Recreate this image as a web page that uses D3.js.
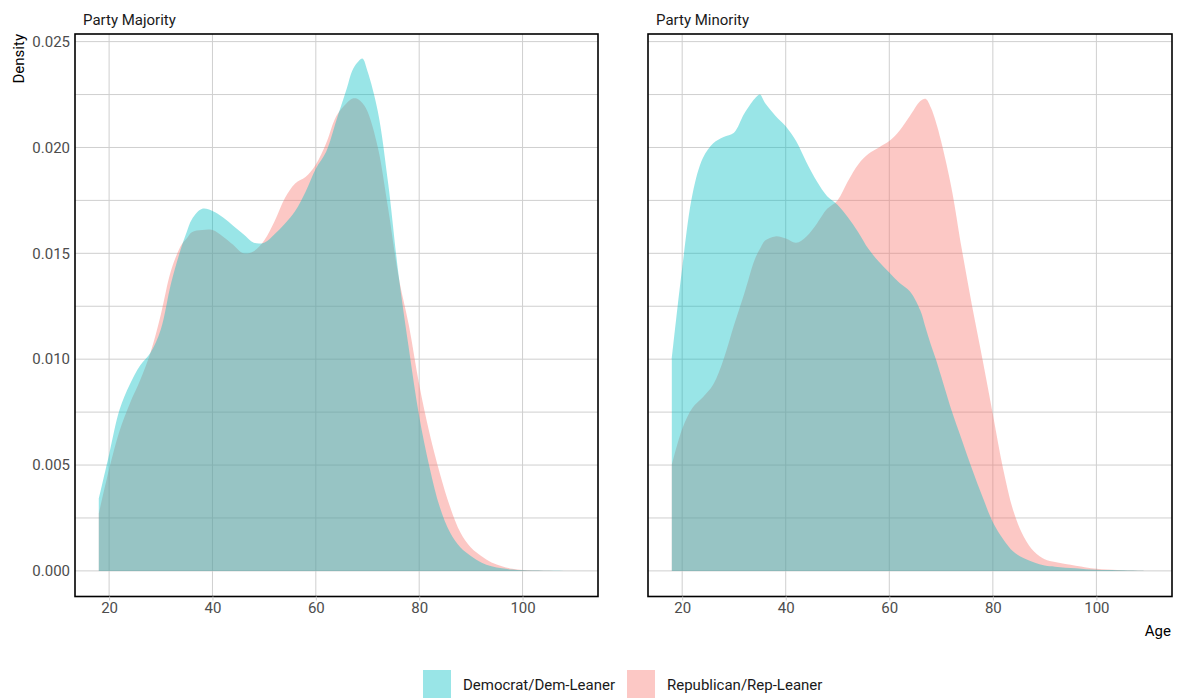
<!DOCTYPE html>
<html>
<head>
<meta charset="utf-8">
<script src="https://cdn.jsdelivr.net/npm/d3@7"></script>
<style>
  body { margin: 0; background: #fff; }
  svg { display: block; }
  text { font-family: Roboto, "Noto Sans", sans-serif; }
</style>
</head>
<body>
<svg id="chart" width="1178" height="700"></svg>
<script>
// Age grid shared by every density curve (denser around the peaks)
const ages = [18, 20, 22, 24, 26, 28, 30, 32, 34, 35, 36, 38, 40, 42, 44, 46, 48, 50, 52, 54,
              56, 58, 60, 62, 64, 66, 67, 68, 69, 70, 72, 74, 76, 78, 80, 82, 84, 86, 88, 90,
              92, 94, 96, 98, 100, 102, 104, 106, 108, 110];

// Estimated age densities, party majority panel
const majorityDem = [0.0034, 0.0055, 0.0076, 0.0088, 0.0097, 0.0103, 0.0114, 0.0136, 0.0153, 0.0160,
                     0.0166, 0.0171, 0.0170, 0.0167, 0.0163, 0.0159, 0.0155, 0.0155, 0.0159, 0.0164,
                     0.0170, 0.0179, 0.0190, 0.0198, 0.0213, 0.0228, 0.0236, 0.0240, 0.0242, 0.0236,
                     0.0217, 0.0183, 0.0140, 0.0105, 0.0073, 0.0049, 0.0030, 0.0018, 0.0011, 0.0007,
                     0.0004, 0.00022, 0.00012, 0.00006, 0.00003, 0.00002, 0.00001, 0.00001, 0, 0];
const majorityRep = [0.0027, 0.0048, 0.0066, 0.0079, 0.0090, 0.0103, 0.0121, 0.0142, 0.0154, 0.0157,
                     0.0160, 0.0161, 0.0161, 0.0158, 0.0154, 0.0150, 0.0151, 0.0156, 0.0165, 0.0176,
                     0.0183, 0.0186, 0.0192, 0.0202, 0.0215, 0.0221, 0.0223, 0.0223, 0.0221, 0.0217,
                     0.0200, 0.0171, 0.0139, 0.0116, 0.0088, 0.0065, 0.0046, 0.0030, 0.0018, 0.0011,
                     0.0007, 0.0004, 0.00022, 0.0001, 0.00004, 0.00002, 0.00001, 0, 0, 0];

// Estimated age densities, party minority panel
const minorityDem = [0.0100, 0.0143, 0.0178, 0.0195, 0.0202, 0.0205, 0.0207, 0.0216, 0.0223, 0.0225,
                     0.0221, 0.0215, 0.0210, 0.0203, 0.0193, 0.0184, 0.0177, 0.0173, 0.0167, 0.0160,
                     0.0152, 0.0146, 0.0141, 0.0136, 0.0132, 0.0123, 0.0115, 0.0107, 0.0100, 0.0092,
                     0.0076, 0.0062, 0.0048, 0.0035, 0.0023, 0.0015, 0.0009, 0.0006, 0.0004, 0.00025,
                     0.0002, 0.00015, 0.00012, 0.00008, 0.00005, 0.00004, 0.00003, 0.00002, 0.00001, 0];
const minorityRep = [0.0050, 0.0067, 0.0077, 0.0082, 0.0088, 0.0100, 0.0116, 0.0131, 0.0147, 0.0152,
                     0.0156, 0.0158, 0.0157, 0.0155, 0.0158, 0.0164, 0.0171, 0.0175, 0.0184, 0.0192,
                     0.0197, 0.0200, 0.0203, 0.0208, 0.0215, 0.0222, 0.0223, 0.0219, 0.0212, 0.0203,
                     0.0181, 0.0152, 0.0125, 0.0100, 0.0074, 0.0048, 0.0028, 0.0016, 0.0009, 0.00055,
                     0.00042, 0.00032, 0.00024, 0.00016, 0.0001, 0.00006, 0.00004, 0.00002, 0.00001, 0];

const panelTitles = ["Party Majority", "Party Minority"];
const parties = ["Democrat/Dem-Leaner", "Republican/Rep-Leaner"];
const partyColors = ["#00BFC4", "#F8766D"];
const xTicks = [20, 40, 60, 80, 100];
const yTicks = [0, 0.005, 0.010, 0.015, 0.020, 0.025];
const yMinorTicks = [0.0025, 0.0075, 0.0125, 0.0175, 0.0225];

const panelSeries = [
  { title: panelTitles[0], dem: majorityDem, rep: majorityRep },
  { title: panelTitles[1], dem: minorityDem, rep: minorityRep }
];

const svg = d3.select("#chart");
const panelX = [[75, 598], [648, 1172]];
const plotTop = 34, plotBottom = 596.5;

const y = d3.scaleLinear().domain([-0.00121, 0.02536]).range([plotBottom, plotTop]);
const color = d3.scaleOrdinal().domain(parties).range(partyColors);

panelSeries.forEach((p, i) => {
  const x = d3.scaleLinear().domain([13.4, 114.6]).range(panelX[i]);
  const g = svg.append("g");
  const [x0, x1] = panelX[i];

  // grid
  g.selectAll("line.hgrid").data(yTicks.concat(yMinorTicks)).join("line")
    .attr("class", "hgrid")
    .attr("x1", x0).attr("x2", x1)
    .attr("y1", d => y(d)).attr("y2", d => y(d))
    .attr("stroke", "#cfcfcf").attr("stroke-width", 1);
  g.selectAll("line.vgrid").data(xTicks).join("line")
    .attr("class", "vgrid")
    .attr("x1", d => x(d)).attr("x2", d => x(d))
    .attr("y1", plotTop).attr("y2", plotBottom)
    .attr("stroke", "#cfcfcf").attr("stroke-width", 1);

  // density areas, Republicans beneath Democrats
  const area = d3.area()
    .x((d, k) => x(ages[k]))
    .y0(y(0))
    .y1(d => y(Math.max(0, d)))
    .curve(d3.curveCatmullRom.alpha(0.5));
  [[p.rep, parties[1]], [p.dem, parties[0]]].forEach(([vals, party]) => {
    g.append("path")
      .attr("d", area(vals))
      .attr("fill", color(party))
      .attr("fill-opacity", 0.4);
  });

  // panel frame
  g.append("rect")
    .attr("x", x0).attr("y", plotTop)
    .attr("width", x1 - x0).attr("height", plotBottom - plotTop)
    .attr("fill", "none").attr("stroke", "#000").attr("stroke-width", 1.6);

  // x axis
  const xa = g.append("g").attr("transform", `translate(0,${plotBottom})`)
    .call(d3.axisBottom(x).tickValues(xTicks).tickSize(4).tickPadding(2).tickFormat(d3.format("d")));
  xa.select(".domain").remove();
  xa.selectAll(".tick line").attr("stroke", "#cccccc");
  xa.selectAll(".tick text").attr("fill", "#4d4d4d").style("font-size", "15px").style("font-family", "Roboto");

  // y axis only on the first panel
  if (i === 0) {
    const ya = g.append("g").attr("transform", `translate(${x0},0)`)
      .call(d3.axisLeft(y).tickValues(yTicks).tickSize(0).tickPadding(5).tickFormat(d3.format(".3f")));
    ya.select(".domain").remove();
    ya.selectAll(".tick text").attr("fill", "#4d4d4d").style("font-size", "15px").style("font-family", "Roboto");
  }

  // strip title
  g.append("text")
    .attr("x", x0 + 8).attr("y", 25)
    .attr("fill", "#1a1a1a").style("font-size", "15px")
    .text(p.title);
});

// axis titles
svg.append("text")
  .attr("transform", "translate(24,34) rotate(-90)")
  .attr("text-anchor", "end")
  .attr("fill", "#000").style("font-size", "15px")
  .text("Density");
svg.append("text")
  .attr("x", 1171).attr("y", 636)
  .attr("text-anchor", "end")
  .attr("fill", "#000").style("font-size", "15px")
  .text("Age");

// legend
const legendX = [423, 627];
const lg = svg.append("g");
parties.forEach((party, k) => {
  lg.append("rect")
    .attr("x", legendX[k]).attr("y", 670)
    .attr("width", 28).attr("height", 28)
    .attr("fill", color(party)).attr("fill-opacity", 0.4);
  lg.append("text")
    .attr("x", legendX[k] + 40).attr("y", 689.5)
    .attr("fill", "#1a1a1a").style("font-size", "15px")
    .text(party);
});
</script>
</body>
</html>
